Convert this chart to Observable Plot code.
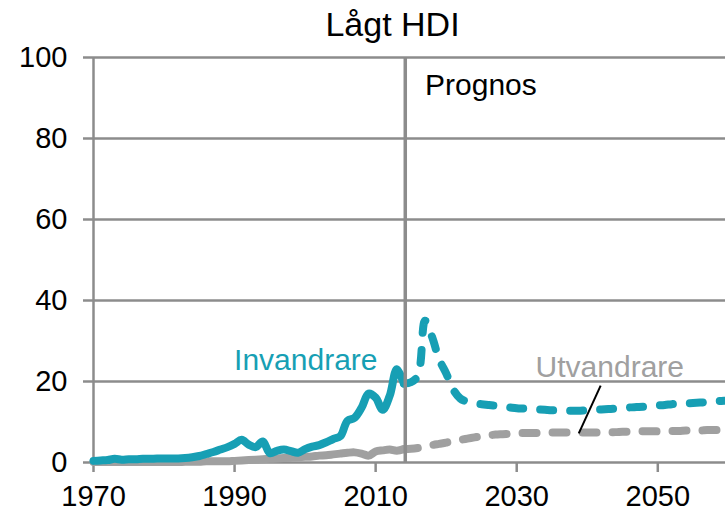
<!DOCTYPE html>
<html>
<head>
<meta charset="utf-8">
<script src="https://cdn.jsdelivr.net/npm/d3@7"></script>
<script src="https://cdn.jsdelivr.net/npm/@observablehq/plot@0.6"></script>
<style>
  html, body { margin: 0; padding: 0; background: #fff; }
</style>
</head>
<body>
<div id="chart"></div>
<script>
const title = "Lågt HDI";
const xTicks = [1970, 1990, 2010, 2030, 2050];
const yTicks = [0, 20, 40, 60, 80, 100];
const prognosYear = 2014.2;

// Historical (solid) series
const histYears = [1970,1971,1972,1973,1974,1975,1976,1977,1978,1979,1980,1981,1982,1983,1984,1985,1986,1987,1988,1989,1990,1991,1992,1993,1994,1995,1996,1997,1998,1999,2000,2001,2002,2003,2004,2005,2006,2007,2008,2009,2010,2011,2012,2013,2014];
const histInvandrare = [0.4,0.5,0.6,0.9,0.7,0.8,0.8,0.9,0.9,1.0,1.0,1.0,1.0,1.1,1.3,1.6,2.1,2.6,3.2,3.8,4.6,5.6,4.4,3.8,5.2,2.3,2.9,3.2,2.8,2.4,3.3,3.9,4.3,5.0,5.8,6.5,10.3,11.0,13.5,17.0,16.0,13.0,16.5,23.0,19.5];
const histUtvandrare = [0.1,0.1,0.1,0.1,0.1,0.1,0.1,0.1,0.1,0.1,0.1,0.1,0.1,0.2,0.2,0.2,0.3,0.3,0.3,0.3,0.4,0.5,0.6,0.7,0.8,0.9,1.0,1.1,1.2,1.3,1.4,1.5,1.7,1.8,2.0,2.2,2.4,2.5,2.2,1.7,2.7,3.0,3.2,2.9,3.3];

// Forecast (dashed) series
const progYears = [2014,2015,2016,2017,2018,2019,2020,2021,2022,2023,2024,2025,2026,2027,2028,2029,2030,2031,2032,2033,2034,2035,2036,2037,2038,2039,2040,2041,2042,2043,2044,2045,2046,2047,2048,2049,2050,2051,2052,2053,2054,2055,2056,2057,2058,2059,2060];
const progInvandrare = [19.5,19.8,21.5,35.0,31.0,25.5,22.0,18.0,15.8,15.0,14.6,14.4,14.2,14.0,13.8,13.6,13.4,13.3,13.2,13.1,13.0,12.9,12.85,12.8,12.8,12.8,12.9,13.0,13.1,13.2,13.3,13.4,13.6,13.7,13.8,14.0,14.1,14.2,14.4,14.5,14.6,14.7,14.8,14.9,15.1,15.2,15.3];
const progUtvandrare = [3.3,3.4,3.6,3.9,4.3,4.6,4.9,5.3,5.6,5.9,6.2,6.5,6.7,6.9,7.0,7.1,7.2,7.3,7.3,7.3,7.4,7.4,7.4,7.4,7.4,7.4,7.4,7.4,7.5,7.5,7.5,7.6,7.6,7.6,7.7,7.7,7.7,7.8,7.8,7.8,7.9,7.9,7.9,8.0,8.0,8.1,8.1];

// Annotations
const labelText = ["Invandrare", "Utvandrare"];
const labelYear = [2000.1, 2043.2];
const labelValue = [25.2, 23.5];
const labelColor = ["#179fb4", "#a0a0a0"];
const prognosLabel = "Prognos";
const prognosLabelYear = 2017.0;
const prognosLabelValue = 93.1;
const leaderFrom = [2041.9, 19.0];
const leaderTo = [2038.8, 7.2];

const teal = "#179fb4";
const gray = "#a0a0a0";
const grid = "#8c8c8c";

const hist = histYears.map((x, i) => ({x, inv: histInvandrare[i], utv: histUtvandrare[i]}));
const prog = progYears.map((x, i) => ({x, inv: progInvandrare[i], utv: progUtvandrare[i]}));
const labels = labelText.map((t, i) => ({t, x: labelYear[i], y: labelValue[i], c: labelColor[i]}));

const chart = Plot.plot({
  width: 725,
  height: 517,
  marginLeft: 93,
  marginRight: 0,
  marginTop: 57,
  marginBottom: 55,
  style: {fontFamily: "'Liberation Sans', Arial, sans-serif", fontSize: "28px", color: "#000", background: "#fff"},
  x: {domain: [1970, 2059.6]},
  y: {domain: [0, 100]},
  marks: [
    Plot.ruleY(yTicks, {stroke: grid, strokeWidth: 2.5}),
    Plot.ruleX([1970], {stroke: grid, strokeWidth: 2.5}),
    Plot.axisX(xTicks, {tickSize: 10, tickPadding: 13, stroke: grid, strokeWidth: 2.5, fill: "#000", tickFormat: d => String(d), fontSize: 29}),
    Plot.axisY(yTicks, {tickSize: 10, tickPadding: 16, stroke: grid, strokeWidth: 2.5, fill: "#000", fontSize: 29}),
    Plot.line(hist, {x: "x", y: "utv", stroke: gray, strokeWidth: 8, curve: "catmull-rom", strokeLinecap: "round", strokeLinejoin: "round"}),
    Plot.line(prog, {x: "x", y: "utv", stroke: gray, strokeWidth: 8, curve: "catmull-rom", strokeLinecap: "round", strokeDasharray: "14,16"}),
    Plot.line(hist, {x: "x", y: "inv", stroke: teal, strokeWidth: 8, curve: "catmull-rom", strokeLinecap: "round", strokeLinejoin: "round"}),
    Plot.line(prog, {x: "x", y: "inv", stroke: teal, strokeWidth: 8, curve: "catmull-rom", strokeLinecap: "round", strokeDasharray: "13,17"}),
    Plot.ruleX([prognosYear], {stroke: grid, strokeWidth: 3.5}),
    Plot.link([{x1: leaderFrom[0], y1: leaderFrom[1], x2: leaderTo[0], y2: leaderTo[1]}], {x1: "x1", y1: "y1", x2: "x2", y2: "y2", stroke: "#000", strokeWidth: 2}),
    Plot.text(labels, {x: "x", y: "y", text: "t", fill: "c", fontSize: 30, textAnchor: "middle"}),
    Plot.text([prognosLabel], {x: prognosLabelYear, y: prognosLabelValue, text: d => d, fontSize: 30, textAnchor: "start", fill: "#000"}),
    Plot.text([title], {frameAnchor: "top", lineAnchor: "middle", dy: -32, dx: -17, fontSize: 34, fill: "#000"})
  ]
});
document.getElementById("chart").append(chart);
</script>
</body>
</html>
